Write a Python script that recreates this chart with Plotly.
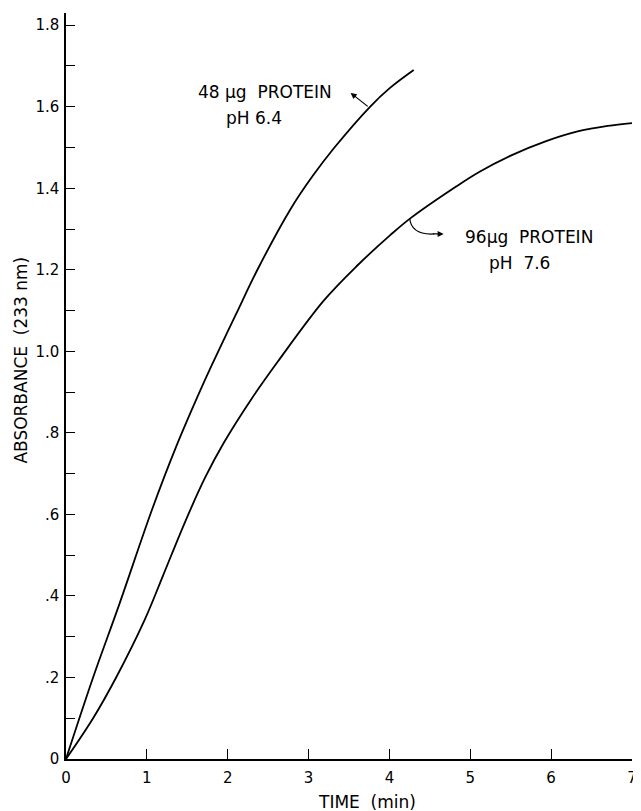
import plotly.graph_objects as go

# 48 ug protein, pH 6.4
time_48 = [0, 0.335, 0.66, 1.07, 1.36, 1.64, 1.80, 2.1, 2.38, 2.78, 3.05, 3.32, 3.76, 4.0, 4.3]
abs_48 = [0, 0.20, 0.38, 0.615, 0.765, 0.895, 0.965, 1.09, 1.205, 1.35, 1.43, 1.50, 1.60, 1.645, 1.69]

# 96 ug protein, pH 7.6
time_96 = [0, 0.335, 0.62, 0.97, 1.2, 1.48, 1.72, 1.95, 2.30, 2.62, 3.19, 3.6, 4.01, 4.25, 4.83, 5.11, 5.5, 5.93, 6.34, 6.7, 7.0]
abs_96 = [0, 0.10, 0.20, 0.34, 0.45, 0.585, 0.69, 0.775, 0.885, 0.975, 1.125, 1.21, 1.285, 1.325, 1.405, 1.44, 1.48, 1.515, 1.54, 1.553, 1.56]

x_ticks = [0, 1, 2, 3, 4, 5, 6, 7]
x_ticktext = ["0", "1", "2", "3", "4", "5", "6", "7"]
y_ticks = [0, 0.2, 0.4, 0.6, 0.8, 1.0, 1.2, 1.4, 1.6, 1.8]
y_ticktext = ["0", ".2", ".4", ".6", ".8", "1.0", "1.2", "1.4", "1.6", "1.8"]

FONT = "DejaVu Sans"
TXT = dict(family=FONT, size=17, color="black")

fig = go.Figure()
fig.add_trace(go.Scatter(x=time_48, y=abs_48, mode="lines",
                         line=dict(color="black", width=1.8, shape="spline", smoothing=1.0),
                         showlegend=False, hoverinfo="skip"))
fig.add_trace(go.Scatter(x=time_96, y=abs_96, mode="lines",
                         line=dict(color="black", width=1.8, shape="spline", smoothing=1.0),
                         showlegend=False, hoverinfo="skip"))

# curve labels
fig.add_annotation(x=2.46, y=1.637, xref="x", yref="y", text="48 µg  PROTEIN",
                   showarrow=False, xanchor="center", yanchor="middle", font=TXT)
fig.add_annotation(x=2.32, y=1.573, xref="x", yref="y", text="pH 6.4",
                   showarrow=False, xanchor="center", yanchor="middle", font=TXT)
fig.add_annotation(x=3.52, y=1.634, xref="x", yref="y", ax=3.75, ay=1.598,
                   axref="x", ayref="y", text="", showarrow=True,
                   arrowhead=2, arrowsize=1, arrowwidth=1.2, arrowcolor="black")

fig.add_annotation(x=5.72, y=1.281, xref="x", yref="y", text="96µg  PROTEIN",
                   showarrow=False, xanchor="center", yanchor="middle", font=TXT)
fig.add_annotation(x=5.61, y=1.217, xref="x", yref="y", text="pH  7.6",
                   showarrow=False, xanchor="center", yanchor="middle", font=TXT)
fig.add_shape(type="path", xref="x", yref="y",
              path="M 4.25,1.327 Q 4.27,1.285 4.55,1.288",
              line=dict(color="black", width=1.2))
fig.add_annotation(x=4.67, y=1.288, xref="x", yref="y", ax=4.52, ay=1.288,
                   axref="x", ayref="y", text="", showarrow=True,
                   arrowhead=2, arrowsize=1, arrowwidth=1.2, arrowcolor="black")

# axis titles
fig.add_annotation(x=-0.08, y=0.535, xref="paper", yref="paper", text="ABSORBANCE  (233 nm)",
                   textangle=-90, showarrow=False, xanchor="center", yanchor="middle",
                   font=dict(family=FONT, size=17, color="black"))
fig.add_annotation(x=0.532, y=-0.0576, xref="paper", yref="paper", text="TIME  (min)",
                   showarrow=False, xanchor="center", yanchor="middle",
                   font=dict(family=FONT, size=17, color="black"))

fig.update_xaxes(range=[0, 7], tickvals=x_ticks, ticktext=x_ticktext,
                 ticks="inside", ticklen=10, tickwidth=1.3, tickcolor="black",
                 showline=True, linecolor="black", linewidth=1.5,
                 showgrid=False, zeroline=False,
                 tickfont=dict(family=FONT, size=15, color="black"),
                 ticklabelstandoff=4, ticklabeloverflow="allow")
fig.update_yaxes(range=[0, 1.83], tickvals=y_ticks, ticktext=y_ticktext,
                 ticks="inside", ticklen=9, tickwidth=1.3, tickcolor="black",
                 showline=True, linecolor="black", linewidth=1.5,
                 showgrid=False, zeroline=False,
                 minor=dict(ticks="inside", ticklen=9, tickwidth=1.3, tickcolor="black",
                            dtick=0.1, tick0=0, showgrid=False),
                 tickfont=dict(family=FONT, size=15, color="black"),
                 ticklabelstandoff=2)

# page body has an 8px margin: size the figure so the plot area lands where the reference's does
fig.update_layout(width=633, height=803,
                  margin=dict(l=58, r=4, t=5, b=52),
                  plot_bgcolor="white", paper_bgcolor="white")

fig.write_html("out.html")
